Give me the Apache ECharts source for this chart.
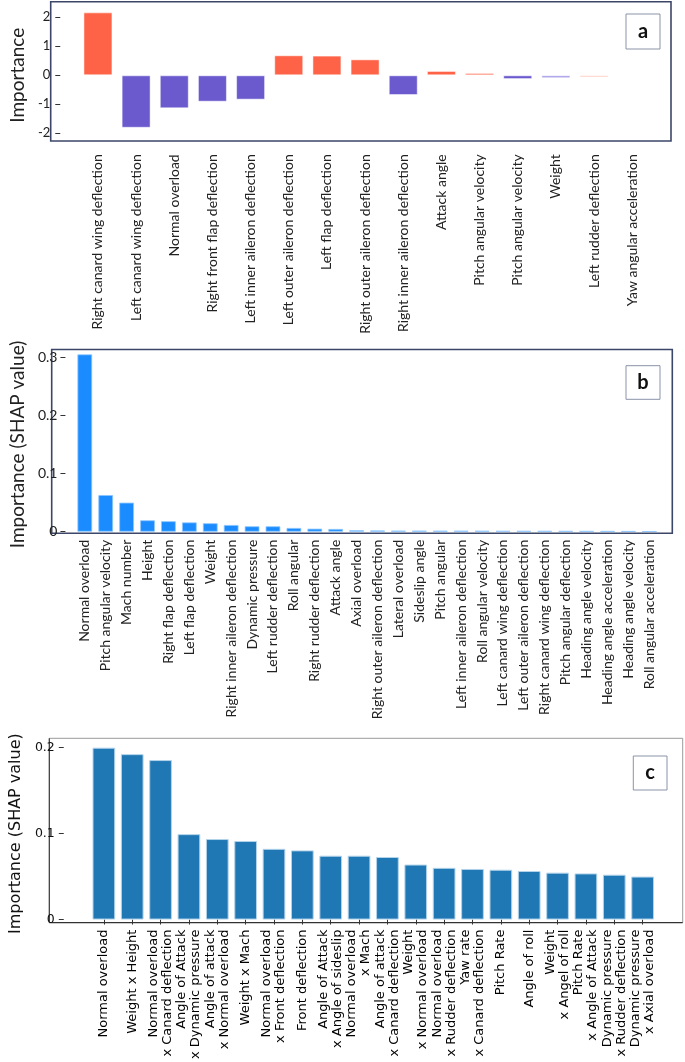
<!DOCTYPE html>
<html><head><meta charset="utf-8">
<script src="https://cdn.jsdelivr.net/npm/echarts@6/dist/echarts.min.js"></script>
<style>html,body{margin:0;padding:0;background:#fff}#c{width:685px;height:1062px}</style>
</head><body><div id="c"></div>
<script>
const catsA = ['Right canard wing deflection','Left canard wing deflection','Normal overload','Right front flap deflection','Left inner aileron deflection','Left outer aileron deflection','Left flap deflection','Right outer aileron deflection','Right inner aileron deflection','Attack angle','Pitch angular velocity','Pitch angular velocity','Weight','Left rudder deflection','Yaw angular acceleration'];
const valsA = [2.17, -1.81, -1.14, -0.91, -0.84, 0.69, 0.68, 0.55, -0.68, 0.15, 0.08, -0.13, -0.10, -0.07, 0];
const colorsA = ['#ff6347','#6a5acd','#6a5acd','#6a5acd','#6a5acd','#ff6347','#ff6347','#ff6347','#6a5acd','#ff6347','#ff6347','#6a5acd','#a49ae6','#ffb3a3','#ff6347'];

const catsB = ['Normal overload','Pitch angular velocity','Mach number','Height','Right flap deflection','Left flap deflection','Weight','Right inner aileron deflection','Dynamic pressure','Left rudder deflection','Roll angular','Right rudder deflection','Attack angle','Axial overload','Right outer aileron deflection','Lateral overload','Sideslip angle','Pitch angular','Left inner aileron deflection','Roll angular velocity','Left canard wing deflection','Left outer aileron deflection','Right canard wing deflection','Pitch angular deflection','Heading angle velocity','Heading angle acceleration','Heading angle velocity','Roll angular acceleration'];
const valsB = [0.305, 0.063, 0.050, 0.0196, 0.018, 0.016, 0.0145, 0.0115, 0.0093, 0.0093, 0.0064, 0.0052, 0.0047, 0.0024, 0.0021, 0.0018, 0.0018, 0.0017, 0.0017, 0.0016, 0.0014, 0.0013, 0.0013, 0.0012, 0.0011, 0.0010, 0.0009, 0.0007];

const catsC = ['Normal overload','Weight x Height','Normal overload\nx Canard deflection','Angle of Attack\nx Dynamic pressure','Angle of attack\nx Normal overload','Weight x Mach','Normal overload\nx Front deflection','Front deflection','Angle of Attack\nx Angle of sideslip','Normal overload\nx Mach','Angle of attack\nx Canard deflection','Weight\nx Normal overload','Normal overload\nx Rudder deflection','Yaw rate\nx Canard deflection','Pitch Rate','Angle of roll','Weight\nx Angel of roll','Pitch Rate\nx Angle of Attack','Dynamic pressure\nx Rudder deflection','Dynamic pressure\nx Axial overload'];
const valsC = [0.200, 0.1925, 0.1856, 0.0994, 0.0937, 0.0914, 0.0823, 0.0805, 0.0743, 0.0743, 0.0728, 0.0640, 0.0602, 0.0589, 0.0580, 0.0565, 0.0546, 0.0537, 0.0522, 0.0500];

const chart = echarts.init(document.getElementById('c'), null, {renderer: 'canvas'});
const dark = '#222';
const frameCol = '#3c4668';
function labelBox(x, y, w, h, t) {
  return [
    {type: 'rect', shape: {x: x, y: y, width: w, height: h}, style: {fill: '#fff', stroke: '#8a93a8', lineWidth: 1}, z: 10},
    {type: 'text', x: x + w / 2, y: y + h / 2, style: {text: t, font: 'bold 20px Lato', fill: '#111', align: 'center', verticalAlign: 'middle', textAlign: 'center', textVerticalAlign: 'middle'}, z: 11}
  ];
}
const option = {
  animation: false,
  grid: [
    {left: 69.3, width: 582, top: 17.3, height: 116},
    {left: 60.6, width: 599.2, top: 357.3, height: 174.4},
    {left: 75.2, width: 581.6, top: 747.7, height: 175}
  ],
  xAxis: [
    {gridIndex: 0, type: 'category', data: catsA, axisLine: {show: false, onZero: false}, axisTick: {show: false},
     axisLabel: {interval: 0, rotate: 90, margin: 21, fontFamily: 'Lato', fontSize: 14, color: dark}},
    {gridIndex: 1, type: 'category', data: catsB, axisLine: {show: false, onZero: false}, axisTick: {show: false},
     axisLabel: {interval: 0, rotate: 90, margin: 8, fontFamily: 'Lato', fontSize: 14, color: dark}},
    {gridIndex: 2, type: 'category', data: catsC, axisLine: {show: false, onZero: false},
     axisTick: {show: true, alignWithLabel: true, length: 5, lineStyle: {color: '#333'}},
     axisLabel: {interval: 0, rotate: 90, margin: 10, fontFamily: 'DejaVu Sans', fontSize: 13, lineHeight: 14, color: '#000'}}
  ],
  yAxis: [
    {gridIndex: 0, type: 'value', min: -2, max: 2, interval: 1, offset: 18.6,
     axisLine: {show: false}, axisTick: {show: true, length: 5, lineStyle: {color: '#333'}}, splitLine: {show: false},
     axisLabel: {margin: 10, fontFamily: 'Lato', fontSize: 13, color: dark},
     name: 'Importance', nameLocation: 'middle', nameGap: 33, nameTextStyle: {fontFamily: 'Lato', fontSize: 19, color: dark}},
    {gridIndex: 1, type: 'value', min: 0, max: 0.3, interval: 0.1, offset: 8.9,
     axisLine: {show: false}, axisTick: {show: true, length: 5, lineStyle: {color: '#333'}}, splitLine: {show: false},
     axisLabel: {margin: 8, fontFamily: 'Lato', fontSize: 14, color: dark},
     name: 'Importance (SHAP value)', nameLocation: 'middle', nameGap: 30, nameTextStyle: {fontFamily: 'Lato', fontSize: 19, color: dark}},
    {gridIndex: 2, type: 'value', min: 0, max: 0.2, interval: 0.1, offset: 25.9,
     axisLine: {show: false}, axisTick: {show: true, length: 5, lineStyle: {color: '#333'}}, splitLine: {show: false},
     axisLabel: {margin: 9, fontFamily: 'DejaVu Sans', fontSize: 12.5, color: '#111'},
     name: 'Importance (SHAP value)', nameLocation: 'middle', nameGap: 29, nameTextStyle: {fontFamily: 'DejaVu Sans', fontSize: 16, color: '#111'}}
  ],
  series: [
    {type: 'bar', xAxisIndex: 0, yAxisIndex: 0, barWidth: 29, clip: false,
     data: valsA.map((v, i) => ({value: v, itemStyle: {color: colorsA[i], borderColor: 'rgba(255,255,255,0.5)', borderWidth: 1}}))},
    {type: 'bar', xAxisIndex: 1, yAxisIndex: 1, barWidth: 14.7, clip: false, data: valsB,
     itemStyle: {color: '#1a8cff', borderColor: '#8ec6ff', borderWidth: 0.8}},
    {type: 'bar', xAxisIndex: 2, yAxisIndex: 2, barWidth: 22.7, clip: false, data: valsC,
     itemStyle: {color: '#1f77b4', borderColor: '#b3d3ea', borderWidth: 1}}
  ],
  graphic: {elements: [
    {type: 'rect', shape: {x: 50.7, y: 1.7, width: 620.3, height: 139.3}, style: {fill: 'none', stroke: frameCol, lineWidth: 1.6}},
    {type: 'rect', shape: {x: 51.7, y: 349.5, width: 620.6, height: 183.8}, style: {fill: 'none', stroke: frameCol, lineWidth: 1.6}},
    {type: 'line', shape: {x1: 49.3, y1: 738.3, x2: 682.7, y2: 738.3}, style: {stroke: '#9a9a9a', lineWidth: 1}},
    {type: 'line', shape: {x1: 682.7, y1: 738.3, x2: 682.7, y2: 922.7}, style: {stroke: '#9a9a9a', lineWidth: 1}},
    {type: 'line', shape: {x1: 49.3, y1: 738.3, x2: 49.3, y2: 922.7}, style: {stroke: '#333', lineWidth: 1.2}},
    {type: 'line', shape: {x1: 49.3, y1: 922.7, x2: 682.7, y2: 922.7}, style: {stroke: '#333', lineWidth: 1.2}}
  ].concat(labelBox(626, 14, 34, 35, 'a'), labelBox(626, 365.7, 34, 33.6, 'b'), labelBox(633.3, 756, 33.7, 34, 'c'))}
};
chart.setOption(option);
</script></body></html>
